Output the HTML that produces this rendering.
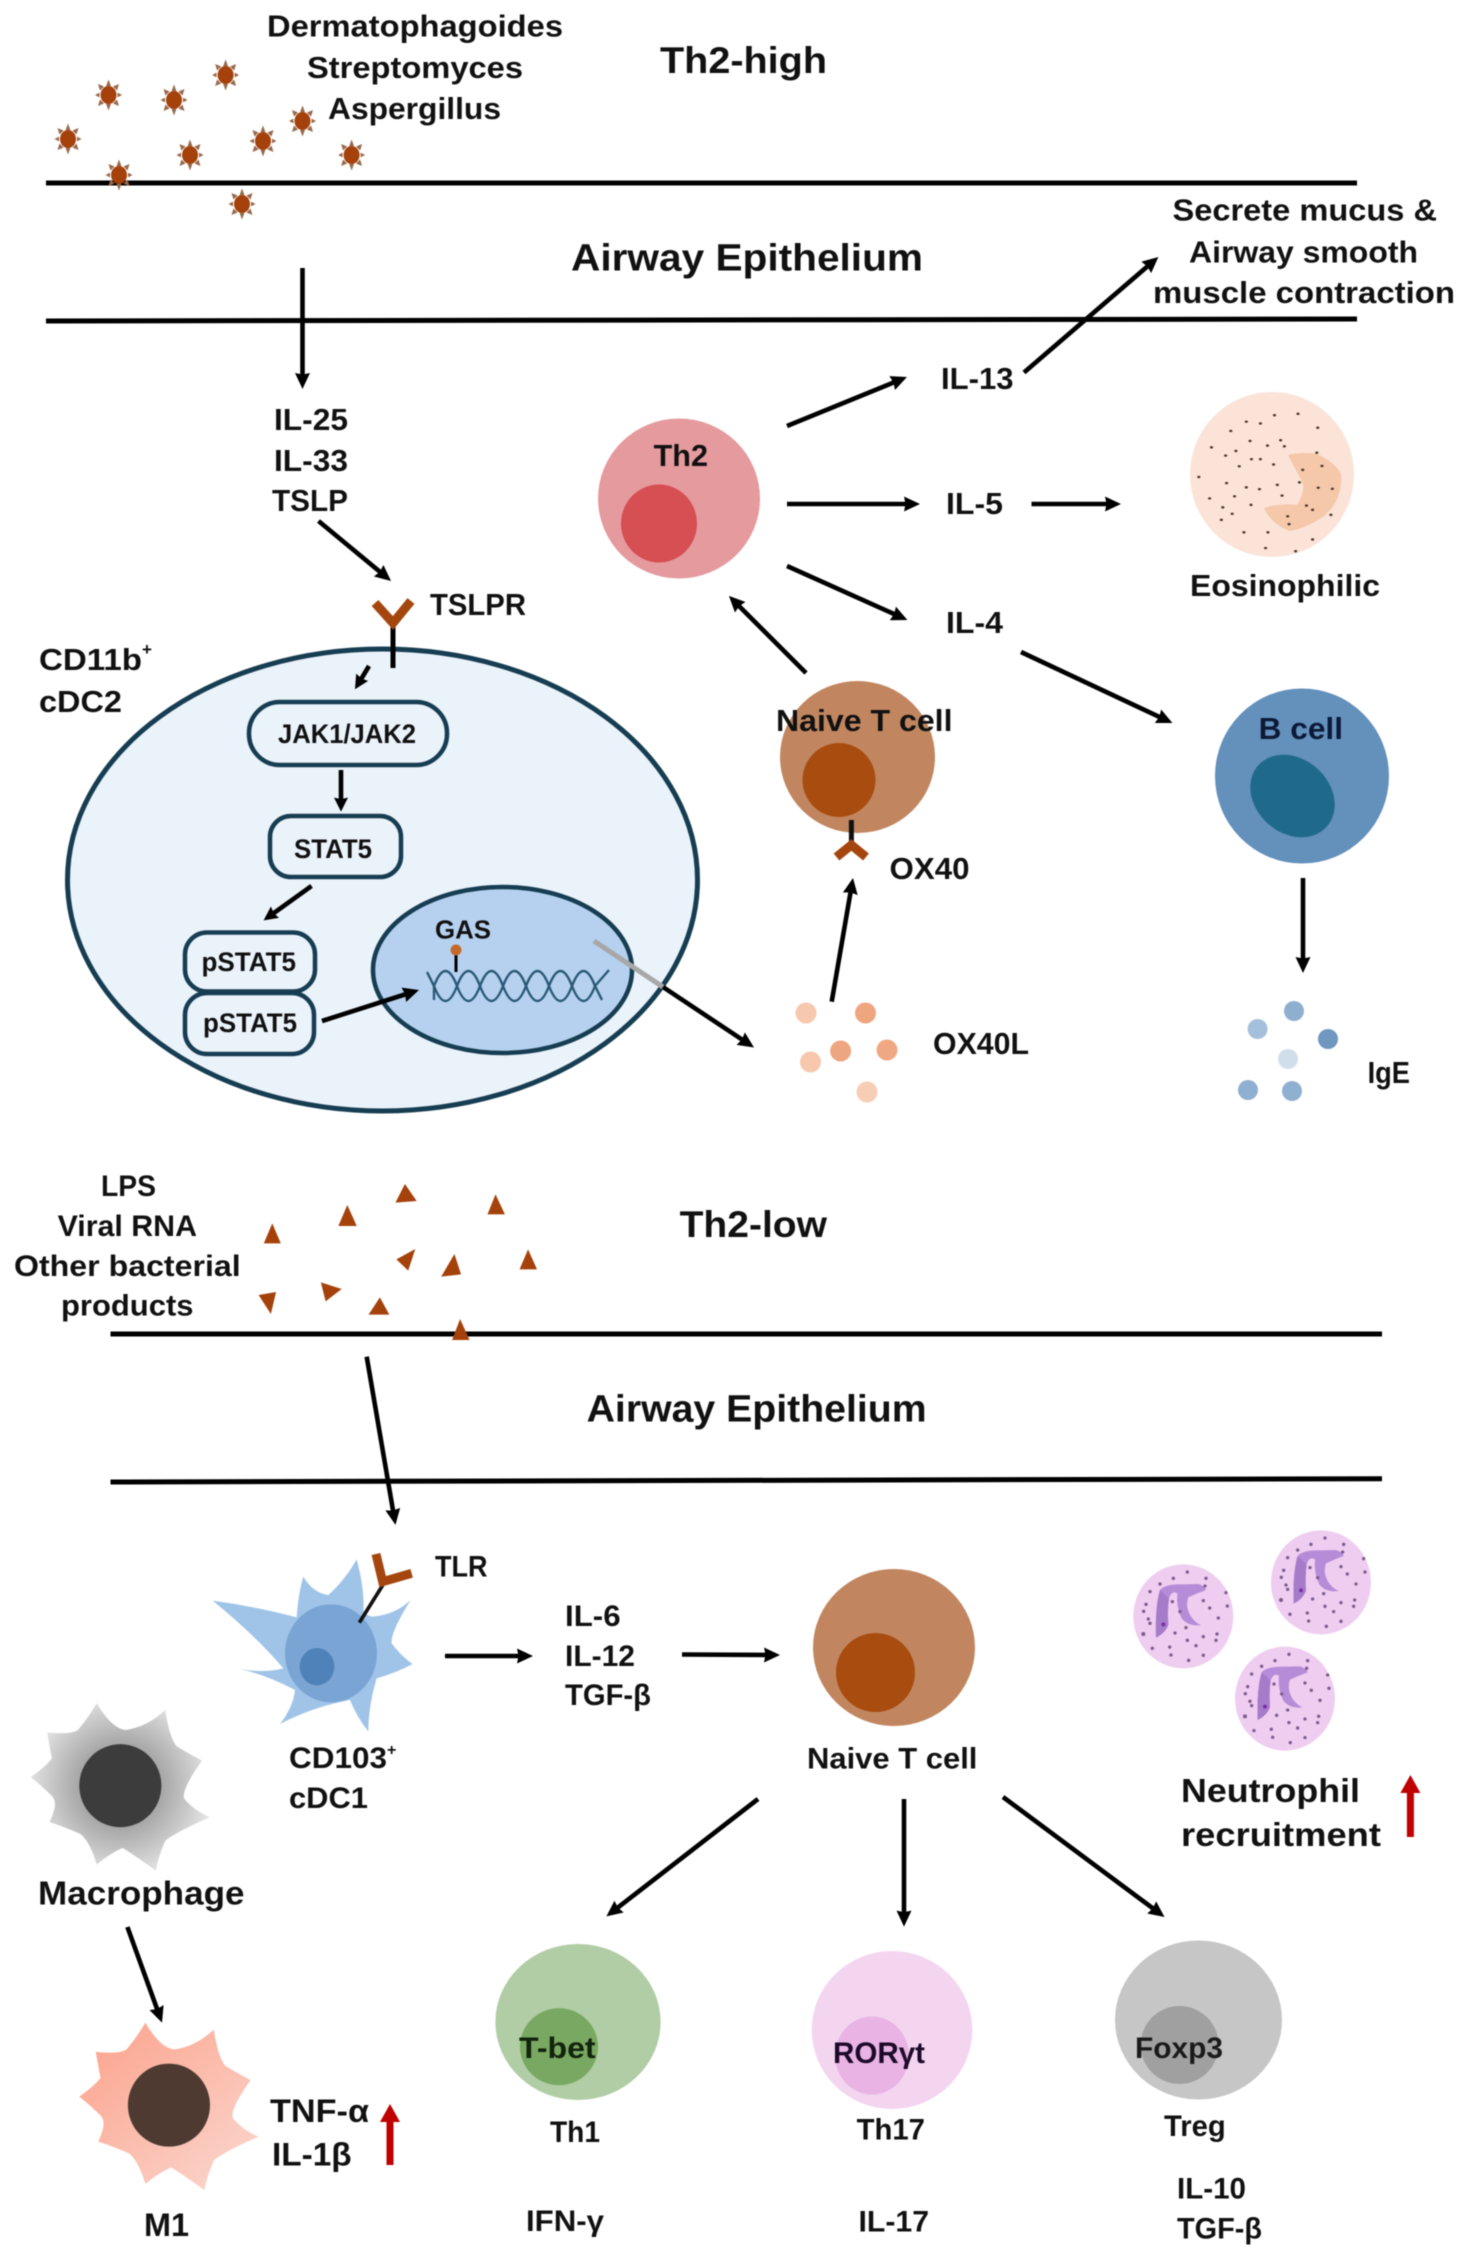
<!DOCTYPE html>
<html><head><meta charset="utf-8"><title>Th2-high and Th2-low airway pathways</title>
<style>
html,body{margin:0;padding:0;background:#fff;width:1477px;height:2260px;overflow:hidden}
svg{display:block;filter:blur(0.45px)}
text{font-family:"Liberation Sans",sans-serif;font-weight:bold;fill:#111}
.l{stroke:#000;stroke-width:4.6;fill:none}
.a{stroke:#000;stroke-width:4.6;fill:none;marker-end:url(#h)}
.b{stroke:#000;stroke-width:5;fill:none}
.box{fill:#eaf2fa;stroke:#173d52;stroke-width:4.5}
</style></head><body>
<svg xmlns="http://www.w3.org/2000/svg" width="1477" height="2260" viewBox="0 0 1477 2260">
<defs>
<marker id="h" markerUnits="userSpaceOnUse" markerWidth="20" markerHeight="20" refX="6" refY="8" orient="auto"><path d="M0,0.5 L16,8 L0,15.5 L1.5,8 Z" fill="#000"/></marker>
<marker id="hs" markerUnits="userSpaceOnUse" markerWidth="20" markerHeight="20" refX="6" refY="7" orient="auto"><path d="M0,0 L14,7 L0,14 L1.5,7 Z" fill="#000"/></marker>
<g id="st">
<g fill="#96694c"><polygon points="-2.4,-9 2.4,-9 0,-15.5"/><polygon points="-2.4,9 2.4,9 0,15.5"/><polygon points="-9,-2.4 -9,2.4 -13.5,0"/><polygon points="9,-2.4 9,2.4 13.5,0"/><polygon points="-4.5,-8.5 -8.5,-4.5 -10.5,-11"/><polygon points="4.5,-8.5 8.5,-4.5 10.5,-11"/><polygon points="-4.5,8.5 -8.5,4.5 -10.5,11"/><polygon points="4.5,8.5 8.5,4.5 10.5,11"/></g>
<ellipse rx="8" ry="9" fill="#a5410b"/>
</g>
<path id="mac" d="M205,388 Q235,440 265,445 Q310,440 350,403 Q360,465 375,480 Q400,495 428,510 Q385,570 390,590 Q410,615 445,630 Q375,660 350,680 Q335,715 330,743 Q285,710 260,695 Q235,705 205,730 Q190,680 170,665 Q135,650 105,640 Q125,600 110,585 Q90,565 65,545 Q100,520 110,505 Q105,480 100,450 Q150,455 165,445 Q190,415 205,388Z"/>
<radialGradient id="gm" gradientUnits="userSpaceOnUse" cx="255" cy="563" r="200"><stop offset="0.45" stop-color="#a8a8a8"/><stop offset="1" stop-color="#e6e6e6"/></radialGradient>
<linearGradient id="gr" x1="0.15" y1="0.1" x2="0.9" y2="0.9"><stop offset="0" stop-color="#fba893"/><stop offset="1" stop-color="#fbd3c9"/></linearGradient>
<g id="neu">
<ellipse cx="250" cy="319" rx="150" ry="156" fill="#efcdf0"/>
<path d="M168,383 Q165,290 180,240 Q195,222 250,223 L295,222 Q315,228 318,240 Q290,250 265,262 Q255,290 272,318 Q285,338 303,345 Q265,350 245,325 Q228,290 232,250 Q215,240 207,265 Q202,300 205,345 Q195,370 168,383Z" fill="#b68cd8"/>
<path d="M168,383 Q165,290 180,240 L207,265 Q202,300 205,345 Q195,370 168,383Z" fill="#a67cca"/>
<g fill="#7a5c8e"><circle cx="262" cy="186" r="5"/><circle cx="220" cy="205" r="5"/><circle cx="318" cy="205" r="5"/><circle cx="180" cy="222" r="5"/><circle cx="150" cy="245" r="5"/><circle cx="315" cy="228" r="5"/><circle cx="378" cy="248" r="5"/><circle cx="382" cy="288" r="5"/><circle cx="138" cy="283" r="5"/><circle cx="131" cy="304" r="5"/><circle cx="145" cy="327" r="5"/><circle cx="150" cy="340" r="5"/><circle cx="217" cy="275" r="5"/><circle cx="310" cy="272" r="5"/><circle cx="329" cy="294" r="5"/><circle cx="240" cy="305" r="5"/><circle cx="355" cy="324" r="5"/><circle cx="190" cy="343" r="6" fill="#7a2fa5"/><circle cx="258" cy="353" r="5"/><circle cx="225" cy="369" r="5"/><circle cx="130" cy="372" r="6"/><circle cx="351" cy="372" r="5"/><circle cx="348" cy="391" r="5"/><circle cx="310" cy="380" r="5"/><circle cx="262" cy="391" r="5"/><circle cx="288" cy="407" r="5"/><circle cx="157" cy="415" r="5"/><circle cx="209" cy="411" r="5"/><circle cx="213" cy="435" r="5"/><circle cx="310" cy="436" r="5"/><circle cx="266" cy="451" r="5"/></g>
</g>
</defs>

<rect width="1477" height="2260" fill="#fff"/>

<!-- Th2-high lines -->
<line class="b" x1="46" y1="183" x2="1357" y2="183"/>
<line class="b" x1="46" y1="321" x2="1357" y2="319"/>
<line class="b" x1="110.5" y1="1334" x2="1382" y2="1334"/>
<line class="b" x1="110.5" y1="1482" x2="1382" y2="1478.7"/>

<!-- allergen stars -->
<use href="#st" x="68" y="139"/><use href="#st" x="108.5" y="95"/><use href="#st" x="174" y="100"/><use href="#st" x="225.6" y="75"/><use href="#st" x="302.5" y="121"/><use href="#st" x="263" y="141"/><use href="#st" x="190" y="155"/><use href="#st" x="351.6" y="155"/><use href="#st" x="119" y="175"/><use href="#st" x="242" y="204"/>

<text x="267" y="36.5" font-size="31" textLength="296" lengthAdjust="spacingAndGlyphs">Dermatophagoides</text>
<text x="307" y="78" font-size="31" textLength="216" lengthAdjust="spacingAndGlyphs">Streptomyces</text>
<text x="328" y="119" font-size="31" textLength="173" lengthAdjust="spacingAndGlyphs">Aspergillus</text>
<text x="660" y="73" font-size="37" textLength="167" lengthAdjust="spacingAndGlyphs">Th2-high</text>
<text x="571" y="270.5" font-size="38" textLength="352" lengthAdjust="spacingAndGlyphs">Airway Epithelium</text>
<text x="1172.5" y="220.7" font-size="31" textLength="264.5" lengthAdjust="spacingAndGlyphs">Secrete mucus &amp;</text>
<text x="1189" y="262.5" font-size="31" textLength="229" lengthAdjust="spacingAndGlyphs">Airway smooth</text>
<text x="1153" y="303" font-size="31" textLength="302" lengthAdjust="spacingAndGlyphs">muscle contraction</text>

<line class="a" x1="302.5" y1="268" x2="302.5" y2="379"/>
<text x="274" y="430" font-size="31" textLength="74" lengthAdjust="spacingAndGlyphs">IL-25</text>
<text x="274" y="471" font-size="31" textLength="74" lengthAdjust="spacingAndGlyphs">IL-33</text>
<text x="272" y="511" font-size="31" textLength="76" lengthAdjust="spacingAndGlyphs">TSLP</text>
<line class="a" x1="318.5" y1="521" x2="383.3" y2="574.6"/>

<!-- DC2 cell -->
<ellipse cx="382.5" cy="880" rx="315" ry="231" fill="#eaf2fa" stroke="#173d52" stroke-width="5"/>
<line x1="393" y1="622" x2="393" y2="668" stroke="#000" stroke-width="5"/>
<polyline points="375,603 393,623 411,601" fill="none" stroke="#a5460f" stroke-width="9"/>
<text x="430" y="615" font-size="31" textLength="96" lengthAdjust="spacingAndGlyphs">TSLPR</text>
<text x="39" y="670" font-size="31" textLength="103" lengthAdjust="spacingAndGlyphs">CD11b</text>
<text x="142" y="655" font-size="17">+</text>
<text x="39" y="712" font-size="31" textLength="83" lengthAdjust="spacingAndGlyphs">cDC2</text>

<line class="l" style="marker-end:url(#hs)" x1="369" y1="666" x2="359.1" y2="682.4"/>
<rect class="box" x="249" y="702" width="198" height="63" rx="31"/>
<text x="278" y="743" font-size="26.5" textLength="138" lengthAdjust="spacingAndGlyphs" fill="#1a2a33">JAK1/JAK2</text>
<line class="l" style="marker-end:url(#hs)" x1="341" y1="770" x2="341" y2="803.6"/>
<rect class="box" x="270" y="816" width="131" height="61" rx="21"/>
<text x="294" y="858" font-size="26.5" textLength="78" lengthAdjust="spacingAndGlyphs">STAT5</text>
<line class="l" style="marker-end:url(#hs)" x1="311.5" y1="886" x2="270.1" y2="915.7"/>
<rect class="box" x="185" y="932.5" width="130" height="59" rx="22"/>
<text x="201.5" y="971" font-size="26.5" textLength="94.5" lengthAdjust="spacingAndGlyphs">pSTAT5</text>
<rect class="box" x="185" y="993" width="129" height="61" rx="22"/>
<text x="203" y="1032" font-size="26.5" textLength="94" lengthAdjust="spacingAndGlyphs">pSTAT5</text>

<ellipse cx="502.5" cy="970" rx="129.5" ry="83" fill="#b5d1ef" stroke="#173d52" stroke-width="4.5"/>
<line class="a" x1="322" y1="1021" x2="409.5" y2="993"/>
<text x="435" y="938.6" font-size="26" textLength="56" lengthAdjust="spacingAndGlyphs">GAS</text>
<line x1="456" y1="950" x2="456" y2="972" stroke="#000" stroke-width="3"/>
<circle cx="456" cy="950" r="5.5" fill="#c4692c"/>
<path d="M427,972 L434,986 q11.5,-30 23,0 t23,0 t23,0 t23,0 t23,0 t23,0 t23,0 L609,970" fill="none" stroke="#2a5a78" stroke-width="2.4"/>
<path d="M434,1000 L434,986 q11.5,30 23,0 t23,0 t23,0 t23,0 t23,0 t23,0 t23,0 L602,1000" fill="none" stroke="#2a5a78" stroke-width="2.4"/>
<line x1="594" y1="941" x2="663" y2="987" stroke="#a8a8a8" stroke-width="5"/>
<line class="a" x1="663" y1="987" x2="745.7" y2="1042"/>

<!-- Th2 -->
<ellipse cx="679" cy="498.5" rx="81" ry="80" fill="#e59a9e"/>
<ellipse cx="659" cy="523.5" rx="38" ry="39" fill="#d64f52"/>
<text x="653.6" y="466" font-size="31" textLength="54.4" lengthAdjust="spacingAndGlyphs">Th2</text>

<line class="a" x1="787" y1="426" x2="897.7" y2="380.8"/>
<line class="a" x1="787" y1="504" x2="910" y2="504"/>
<line class="a" x1="1031.5" y1="504" x2="1111" y2="504"/>
<line class="a" x1="787" y1="566" x2="898.3" y2="615.9"/>
<line class="a" x1="1021" y1="652" x2="1163.4" y2="718.8"/>
<line class="a" x1="1024" y1="372.5" x2="1150.8" y2="263.5"/>
<line class="a" x1="806" y1="673" x2="736" y2="603"/>
<text x="941" y="389" font-size="31" textLength="72.6" lengthAdjust="spacingAndGlyphs">IL-13</text>
<text x="946" y="514" font-size="31" textLength="57" lengthAdjust="spacingAndGlyphs">IL-5</text>
<text x="946" y="633" font-size="31" textLength="57" lengthAdjust="spacingAndGlyphs">IL-4</text>

<!-- Eosinophil -->
<ellipse cx="1272" cy="474.5" rx="82" ry="82.5" fill="#fbe3d8"/>
<path d="M1288,455 Q1300,452 1316,453.6 Q1335,462 1341,474 Q1342,488 1337,499 Q1332,510 1323,517 Q1306,528 1290,531 Q1272,525 1264,508 Q1280,503 1297,505 Q1306,490 1302,481 Q1293,465 1288,455Z" fill="#f5c8aa"/>
<g transform="translate(740,160) scale(0.4701,0.357)" fill="#4a362c"><circle cx="1137" cy="715" r="3.4"/><circle cx="1187" cy="711" r="3.4"/><circle cx="1077" cy="733" r="3.4"/><circle cx="1107" cy="738" r="3.4"/><circle cx="1229" cy="750" r="3.4"/><circle cx="1044" cy="759" r="3.4"/><circle cx="1150" cy="785" r="3.4"/><circle cx="1085" cy="787" r="3.4"/><circle cx="1122" cy="800" r="3.4"/><circle cx="1158" cy="802" r="3.4"/><circle cx="1003" cy="805" r="3.4"/><circle cx="1055" cy="815" r="3.4"/><circle cx="1033" cy="828" r="3.4"/><circle cx="1088" cy="838" r="3.4"/><circle cx="1107" cy="838" r="3.4"/><circle cx="1135" cy="853" r="3.4"/><circle cx="1062" cy="858" r="3.4"/><circle cx="1227" cy="820" r="3.4"/><circle cx="1238" cy="857" r="3.4"/><circle cx="1197" cy="868" r="3.4"/><circle cx="976" cy="888" r="3.4"/><circle cx="1035" cy="905" r="3.4"/><circle cx="1077" cy="917" r="3.4"/><circle cx="1105" cy="922" r="3.4"/><circle cx="1143" cy="910" r="3.4"/><circle cx="1190" cy="903" r="3.4"/><circle cx="1230" cy="918" r="3.4"/><circle cx="1260" cy="921" r="3.4"/><circle cx="1052" cy="942" r="3.4"/><circle cx="1153" cy="940" r="3.4"/><circle cx="999" cy="948" r="3.4"/><circle cx="1087" cy="966" r="3.4"/><circle cx="1027" cy="973" r="3.4"/><circle cx="1205" cy="968" r="3.4"/><circle cx="1218" cy="980" r="3.4"/><circle cx="1047" cy="991" r="3.4"/><circle cx="1024" cy="1008" r="3.4"/><circle cx="1257" cy="994" r="3.4"/><circle cx="1165" cy="998" r="3.4"/><circle cx="1168" cy="1020" r="3.4"/><circle cx="1072" cy="1043" r="3.4"/><circle cx="1123" cy="1043" r="3.4"/><circle cx="1218" cy="1063" r="3.4"/><circle cx="1118" cy="1087" r="3.4"/><circle cx="1182" cy="1096" r="3.4"/></g>
<text x="1190" y="596" font-size="31" textLength="190" lengthAdjust="spacingAndGlyphs">Eosinophilic</text>

<!-- Naive T upper -->
<ellipse cx="857.5" cy="757" rx="77.5" ry="76" fill="#c18660"/>
<ellipse cx="839" cy="780" rx="36.5" ry="37" fill="#a84c10"/>
<text x="776" y="731" font-size="31" textLength="176.5" lengthAdjust="spacingAndGlyphs">Naive T cell</text>
<line x1="851.4" y1="820" x2="851.4" y2="842" stroke="#111" stroke-width="5"/>
<polyline points="836.5,857 851.4,845 866,857" fill="none" stroke="#a5460f" stroke-width="9"/>
<text x="889.5" y="879" font-size="31" textLength="80" lengthAdjust="spacingAndGlyphs">OX40</text>
<line class="a" x1="831.7" y1="1001.7" x2="851.3" y2="887.9"/>

<!-- OX40L -->
<circle cx="806" cy="1013" r="10.5" fill="#f6c9ae"/><circle cx="865.5" cy="1013" r="10.5" fill="#eea67f"/><circle cx="810.5" cy="1062" r="10.5" fill="#f8c8ae"/><circle cx="840.6" cy="1051" r="10.5" fill="#eea680"/><circle cx="887" cy="1050" r="10.5" fill="#f0a882"/><circle cx="867" cy="1092" r="10.5" fill="#f8cdb6"/>
<text x="933" y="1054" font-size="31" textLength="96" lengthAdjust="spacingAndGlyphs">OX40L</text>

<!-- B cell -->
<ellipse cx="1302" cy="776" rx="87" ry="87.5" fill="#6490bc"/>
<ellipse cx="1292.5" cy="796" rx="46" ry="37" transform="rotate(42 1292.5 796)" fill="#1f6a8c"/>
<text x="1258.6" y="739" font-size="31" textLength="84.4" lengthAdjust="spacingAndGlyphs" style="fill:#0c1a38">B cell</text>
<line class="a" x1="1303" y1="878" x2="1303" y2="963"/>
<circle cx="1294" cy="1011" r="10" fill="#8fafcf"/><circle cx="1257.6" cy="1029" r="10" fill="#a5c0dc"/><circle cx="1328" cy="1039" r="10" fill="#6f97c0"/><circle cx="1288" cy="1059" r="10" fill="#d0deeb"/><circle cx="1248" cy="1090" r="10" fill="#90b0d2"/><circle cx="1292" cy="1091" r="10" fill="#90b0d2"/>
<text x="1367.6" y="1083" font-size="31" textLength="42.4" lengthAdjust="spacingAndGlyphs">IgE</text>

<!-- Th2-low -->
<text x="101" y="1196" font-size="30" textLength="55" lengthAdjust="spacingAndGlyphs">LPS</text>
<text x="57.6" y="1236" font-size="30" textLength="139.4" lengthAdjust="spacingAndGlyphs">Viral RNA</text>
<text x="14" y="1276" font-size="30" textLength="226.7" lengthAdjust="spacingAndGlyphs">Other bacterial</text>
<text x="61" y="1315.7" font-size="30" textLength="132.5" lengthAdjust="spacingAndGlyphs">products</text>
<g transform="translate(0,1140) scale(0.4719,0.3333)" fill="#a5410b"><polygon points="577,250 595,310 559,310"/><polygon points="736,195 756,258 717,258"/><polygon points="858,132 883,183 838,188"/><polygon points="1050,163 1070,223 1033,223"/><polygon points="880,327 865,392 840,358"/><polygon points="963,342 977,403 935,410"/><polygon points="1119,328 1138,388 1101,388"/><polygon points="548,465 585,456 574,522"/><polygon points="680,427 724,447 690,484"/><polygon points="805,472 825,524 781,524"/><polygon points="975,537 995,600 958,600"/></g>
<text x="679.6" y="1237" font-size="37" textLength="147.4" lengthAdjust="spacingAndGlyphs">Th2-low</text>
<text x="586.6" y="1421.7" font-size="38" textLength="340" lengthAdjust="spacingAndGlyphs">Airway Epithelium</text>
<line class="a" x1="366.7" y1="1356.7" x2="393.8" y2="1515"/>

<!-- cDC1 -->
<g transform="translate(200,1540) scale(0.3333)">
<path d="M38,182 Q170,200 290,232 Q295,160 310,110 Q340,160 385,165 Q435,120 470,58 Q495,150 490,220 L515,230 Q585,225 632,180 Q570,280 575,310 Q605,350 638,372 Q585,400 530,415 Q505,500 505,575 Q470,530 450,480 Q340,500 240,552 Q280,500 285,450 Q200,405 120,387 Q190,400 250,385 Q170,290 38,182 Z" fill="#a0c4e8"/>
<ellipse cx="393" cy="340" rx="138" ry="147" fill="#79a4d3"/>
<ellipse cx="351" cy="380" rx="52" ry="56" fill="#4f82b9"/>
<line x1="478" y1="248" x2="548" y2="136" stroke="#111" stroke-width="11"/>
<polyline points="528,42 548,125 635,100" fill="none" stroke="#a5460f" stroke-width="27"/>
</g>
<text x="435" y="1576.6" font-size="30" textLength="52.5" lengthAdjust="spacingAndGlyphs">TLR</text>
<text x="289" y="1768" font-size="30" textLength="98" lengthAdjust="spacingAndGlyphs">CD103</text>
<text x="387" y="1755" font-size="16">+</text>
<text x="289" y="1808" font-size="30" textLength="79" lengthAdjust="spacingAndGlyphs">cDC1</text>
<line class="a" x1="445" y1="1656" x2="523" y2="1656"/>
<text x="565" y="1626" font-size="30" textLength="55.6" lengthAdjust="spacingAndGlyphs">IL-6</text>
<text x="565" y="1666" font-size="30" textLength="70" lengthAdjust="spacingAndGlyphs">IL-12</text>
<text x="565" y="1705" font-size="30" textLength="86" lengthAdjust="spacingAndGlyphs">TGF-β</text>
<line class="a" x1="682" y1="1654.5" x2="770" y2="1655"/>

<!-- Macrophage -->
<g transform="translate(0,1520) scale(0.4719)">
<use href="#mac" fill="url(#gm)"/>
<ellipse cx="255" cy="563" rx="87" ry="88" fill="#3c3c3c"/>
<g transform="translate(103,677)"><use href="#mac" fill="url(#gr)"/><ellipse cx="255" cy="563" rx="87" ry="88" fill="#4f3a32"/></g>
</g>
<text x="38" y="1904.6" font-size="33" textLength="206.5" lengthAdjust="spacingAndGlyphs">Macrophage</text>
<line class="a" x1="127.4" y1="1927" x2="158.6" y2="2013.2"/>
<text x="144" y="2236" font-size="32" textLength="45" lengthAdjust="spacingAndGlyphs">M1</text>
<text x="270" y="2122" font-size="32" textLength="99" lengthAdjust="spacingAndGlyphs">TNF-α</text>
<text x="272" y="2165.5" font-size="32" textLength="79.6" lengthAdjust="spacingAndGlyphs">IL-1β</text>
<line x1="390" y1="2165" x2="390" y2="2118" stroke="#c00000" stroke-width="7"/>
<polygon points="390,2104 380,2122 400,2122" fill="#c00000"/>

<!-- Naive T lower -->
<ellipse cx="894" cy="1647.5" rx="81" ry="78.5" fill="#c18660"/>
<circle cx="875.5" cy="1672.5" r="39.5" fill="#a84c10"/>
<text x="807" y="1768.5" font-size="30" textLength="170.4" lengthAdjust="spacingAndGlyphs">Naive T cell</text>
<line class="a" x1="758" y1="1799" x2="614.3" y2="1910.3"/>
<line class="a" x1="904" y1="1799" x2="904" y2="1916.6"/>
<line class="a" x1="1003" y1="1797" x2="1156.5" y2="1911"/>

<!-- Th1 -->
<ellipse cx="578" cy="2022" rx="82.6" ry="78" fill="#b1cda5"/>
<ellipse cx="559" cy="2046.7" rx="39" ry="38.5" fill="#78a862"/>
<text x="519" y="2058" font-size="30" textLength="76.6" lengthAdjust="spacingAndGlyphs" style="fill:#12240c">T-bet</text>
<text x="550" y="2142" font-size="30" textLength="50" lengthAdjust="spacingAndGlyphs">Th1</text>
<text x="526" y="2231" font-size="30" textLength="78" lengthAdjust="spacingAndGlyphs">IFN-γ</text>

<!-- Th17 -->
<ellipse cx="892" cy="2030" rx="80.3" ry="79" fill="#f3d5f0"/>
<ellipse cx="872" cy="2055.5" rx="37" ry="39" fill="#e9b4e3"/>
<text x="833" y="2063" font-size="30" textLength="92" lengthAdjust="spacingAndGlyphs" style="fill:#1d0a2a">RORγt</text>
<text x="856.6" y="2139.5" font-size="30" textLength="68.4" lengthAdjust="spacingAndGlyphs">Th17</text>
<text x="858.5" y="2231.5" font-size="30" textLength="70.5" lengthAdjust="spacingAndGlyphs">IL-17</text>

<!-- Treg -->
<ellipse cx="1198.5" cy="2020" rx="83.5" ry="79.5" fill="#c6c6c6"/>
<circle cx="1179.6" cy="2045" r="39" fill="#a0a0a0"/>
<text x="1135" y="2058" font-size="30" textLength="88" lengthAdjust="spacingAndGlyphs" style="fill:#1a1a1a">Foxp3</text>
<text x="1164" y="2136" font-size="30" textLength="61.7" lengthAdjust="spacingAndGlyphs">Treg</text>
<text x="1177" y="2198.5" font-size="30" textLength="69" lengthAdjust="spacingAndGlyphs">IL-10</text>
<text x="1177" y="2238.5" font-size="30" textLength="85" lengthAdjust="spacingAndGlyphs">TGF-β</text>

<!-- Neutrophils -->
<g transform="translate(1100,1510) scale(0.3333)">
<use href="#neu"/>
<use href="#neu" x="413" y="-102"/>
<use href="#neu" x="305" y="247"/>
</g>
<text x="1181" y="1802" font-size="33" textLength="179" lengthAdjust="spacingAndGlyphs">Neutrophil</text>
<text x="1181" y="1846" font-size="33" textLength="200" lengthAdjust="spacingAndGlyphs">recruitment</text>
<line x1="1410.4" y1="1837" x2="1410.4" y2="1788" stroke="#c00000" stroke-width="7"/>
<polygon points="1410.4,1775 1400.4,1793 1420.4,1793" fill="#c00000"/>
</svg>
</body></html>
